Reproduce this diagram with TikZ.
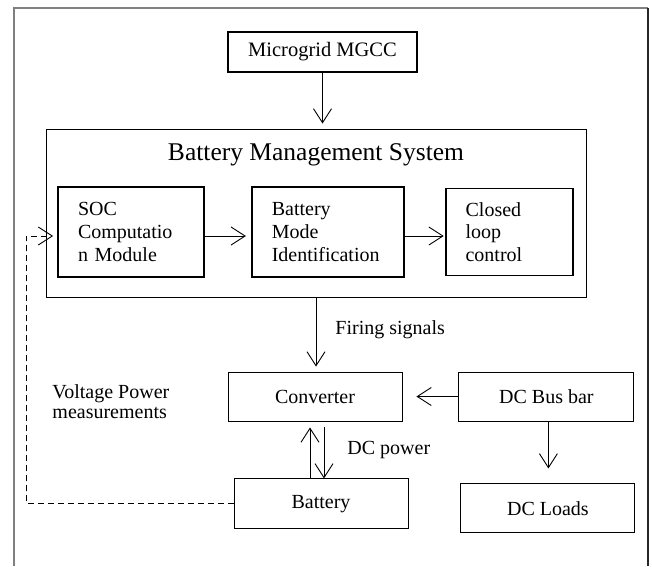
\documentclass[tikz,border=0pt]{standalone}
\usepackage{fontspec}
\setmainfont{Liberation Serif}
\usetikzlibrary{arrows.meta,positioning}

\begin{document}
\begin{tikzpicture}[>={Straight Barb[length=14pt,width=18pt]},x=1pt,y=-1pt,line width=0.9pt,
    every node/.style={font=\fontsize{20}{22.7}\selectfont},
    block/.style={draw,line width=0.9pt,minimum width=174pt,minimum height=49pt},
    module/.style={draw,line width=1.8pt,minimum height=90pt,inner xsep=20pt,align=left},
    note/.style={inner sep=0pt,align=left}]

                \useasboundingbox (0,0) rectangle (652,566);

                \draw[gray,line width=1.5pt] (14,566) -- (14,8) -- (648,8);

                \draw[black!85,line width=1.5pt] (648,8) -- (648,566);

                

                \node[draw,line width=1.8pt,minimum width=189pt,minimum height=40pt,font=\fontsize{20.5}{24}\selectfont] (mgcc) at (322.5,52) {Microgrid MGCC};

                \node[draw,minimum width=540pt,minimum height=168pt] (bms) at (316,213) {};

                \node[font=\fontsize{25.5}{30}\selectfont] (bmstitle) at (316,155) {Battery Management System};

                

                \node[module,text width=106pt] (soc) at (131,232) {SOC\\Computatio\\n Module};

                \node[module,text width=112pt] (bmi) [right=46pt of soc] {Battery\\Mode\\Identification};

                \node[module,text width=87pt,minimum height=87pt] (clc) [right=40pt of bmi] {Closed\\loop\\control};

                

                \node[block] (conv) at (315,396.5) {Converter};

                \node[block,minimum width=175pt] (bus) [right=56pt of conv] {DC Bus bar};

                \node[block] (loads) [below=62pt of bus,xshift=1.5pt] {DC Loads};

                \node[block,minimum height=50pt] (batt) [below=57pt of conv,xshift=6pt] {Battery};

                

                \draw[->,shorten >=5pt] (mgcc) -- (mgcc |- bms.north);

                \foreach \from/\to/\gap in {soc/bmi/5pt, bmi/clc/1pt}
                    {
                    \path[->,shorten >=\gap] ([yshift=-4pt]\from.east) edge ([yshift=-4pt]\to.west);
                    }

                \draw[->,shorten >=5pt] (bms.south) -- (bms.south |- conv.north) node[note,pos=0.43,right=19pt] {Firing signals};

                

                \draw[->,shorten >=14pt] (bus) -- (conv);

                \draw[->,shorten >=15pt] ([xshift=2pt]bus.south) -- ([xshift=2pt]bus.south |- loads.north);

                \draw[->,shorten >=6pt] ([xshift=-11pt]batt.north) -- ([xshift=-11pt]batt.north |- conv.south);

                \draw[->,shorten <=6pt] ([xshift=3pt]batt.north |- conv.south) -- ([xshift=3pt]batt.north) node[note,midway,right=23pt] {DC power};

                

                \draw[->,dash pattern=on 6pt off 4pt,shorten >=4pt] (batt.west) -| ([xshift=-31pt,yshift=-4pt]soc.west) -- ([yshift=-4pt]soc.west);

                \node[note,anchor=west,font=\fontsize{20}{20}\selectfont] (vpm) at (52,402) {Voltage Power\\measurements};

            \end{tikzpicture}
\end{document}
